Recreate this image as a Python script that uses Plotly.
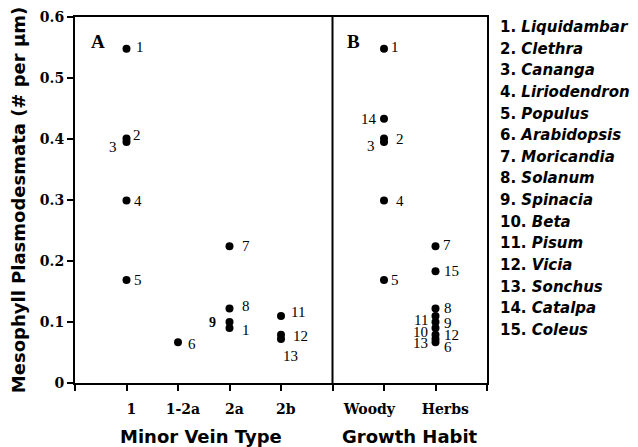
import plotly.graph_objects as go

# ---------------- data ----------------
species = ["Liquidambar", "Clethra", "Cananga", "Liriodendron", "Populus",
           "Arabidopsis", "Moricandia", "Solanum", "Spinacia", "Beta",
           "Pisum", "Vicia", "Sonchus", "Catalpa", "Coleus"]
species_no = list(range(1, 16))
vein_type = ["1", "1", "1", "1", "1", "1-2a", "2a", "2a", "2a", "2a",
             "2b", "2b", "2b", None, None]
growth_habit = ["Woody", "Woody", "Woody", "Woody", "Woody", "Herbs", "Herbs",
                "Herbs", "Herbs", "Herbs", "Herbs", "Herbs", "Herbs", "Woody", "Herbs"]
pd_per_um = [0.548, 0.401, 0.395, 0.299, 0.169, 0.067, 0.224, 0.122, 0.100,
             0.090, 0.110, 0.079, 0.072, 0.433, 0.183]
# point labels as printed in panel A (label of no. 10 is clipped to "1")
labels_a = ["1", "2", "3", "4", "5", "6", "7", "8", "9", "1", "11", "12", "13", "", ""]
x_tick_labels = ["", "1", "1-2a", "2a", "2b", "", "Woody", "Herbs", ""]

# ---------------- styles ----------------
NB = "\u00a0"
# padding that nudges the printed tick labels off-centre as in the original
tick_pad = {"1": (2, 0), "1-2a": (2, 0), "2a": (2, 0), "2b": (2, 0),
            "Woody": (0, 6), "Herbs": (4, 0)}
tick_text = [NB * tick_pad[t][0] + t + NB * tick_pad[t][1] if t else "" for t in x_tick_labels]

# label offsets (xshift, yshift, xanchor) per species
offs_a = {1: (7, 2, "left"), 2: (4, 3, "left"), 3: (-8, -5, "right"), 4: (5, 0, "left"),
          5: (5, 0, "left"), 6: (8, -2, "left"), 7: (10, 0, "left"), 8: (10, 3, "left"),
          9: (-12, 0, "right"), 10: (10, -2, "left"), 11: (8, 4, "left"),
          12: (10, -1, "left"), 13: (0, -17, "left")}
offs_b = {1: (5, 2, "left"), 2: (10, -1, "left"), 3: (-7, -4, "right"), 4: (10, 0, "left"),
          5: (5, 0, "left"), 6: (6, -5, "left"), 7: (5, 1, "left"), 8: (6, 1, "left"),
          9: (6, -1, "left"), 10: (-6, -4, "right"), 11: (-6, -4, "right"),
          12: (6, 0, "left"), 13: (-6, -4, "right"), 14: (-5, 0, "right"), 15: (6, 0, "left")}

pos = {lab: i for i, lab in enumerate(x_tick_labels) if lab}

xa, ya, xb, yb = [], [], [], []
for v, h, val in zip(vein_type, growth_habit, pd_per_um):
    if v is not None:
        xa.append(pos[v]); ya.append(val)
    xb.append(pos[h]); yb.append(val)

fig = go.Figure()
marker = dict(color="black", size=8)
fig.add_trace(go.Scatter(x=xa, y=ya, mode="markers", marker=marker, showlegend=False))
fig.add_trace(go.Scatter(x=xb, y=yb, mode="markers", marker=marker, showlegend=False))

lab_font = dict(family="Liberation Serif", size=15, color="black")
ann = []
for n, v, val, lab in zip(species_no, vein_type, pd_per_um, labels_a):
    if v is None:
        continue
    dx, dy, anc = offs_a[n]
    f = dict(lab_font)
    if n == 9:
        f = dict(lab_font, weight="bold", size=14)
    ann.append(dict(x=pos[v], y=val, xref="x", yref="y", text=lab, showarrow=False,
                    xanchor=anc, yanchor="middle", xshift=dx, yshift=dy, font=f))
for n, h, val in zip(species_no, growth_habit, pd_per_um):
    dx, dy, anc = offs_b[n]
    ann.append(dict(x=pos[h], y=val, xref="x", yref="y", text=str(n), showarrow=False,
                    xanchor=anc, yanchor="middle", xshift=dx, yshift=dy, font=lab_font))

# panel letters
letter_font = dict(family="Liberation Serif", size=19, color="black", weight="bold")
ann.append(dict(x=0.28, y=0.934, xref="x", yref="paper", text="A", showarrow=False,
                xanchor="left", yanchor="middle", font=letter_font))
ann.append(dict(x=5.24, y=0.934, xref="x", yref="paper", text="B", showarrow=False,
                xanchor="left", yanchor="middle", font=letter_font))

# x titles
title_font = dict(family="DejaVu Sans", size=18, color="black", weight="bold")
ann.append(dict(x=2.45, y=-0.112, xref="x", yref="paper", text="Minor Vein Type",
                showarrow=False, xanchor="center", yanchor="top", font=title_font))
ann.append(dict(x=6.5, y=-0.112, xref="x", yref="paper", text="Growth Habit",
                showarrow=False, xanchor="center", yanchor="top", font=title_font))

# species key, one line per entry
key_top, key_step = 0.9727, 0.05913
for i, (n, s) in enumerate(zip(species_no, species)):
    ann.append(dict(x=1.0267, y=key_top - i * key_step, xref="paper", yref="paper",
                    text=f"<b>{n}. <i>{s}</i></b>", showarrow=False,
                    xanchor="left", yanchor="middle", align="left",
                    font=dict(family="DejaVu Sans", size=15, color="black")))

fig.update_layout(
    width=638, height=447,
    margin=dict(l=67, r=159, t=9, b=72),
    paper_bgcolor="white", plot_bgcolor="white",
    annotations=ann,
    shapes=[dict(type="line", xref="x", yref="paper", x0=5, x1=5, y0=0, y1=1,
                 line=dict(color="black", width=2))],
)
tick_font = dict(family="DejaVu Serif", size=14, color="black", weight="bold")
fig.update_xaxes(range=[0, 8], tickvals=list(range(len(x_tick_labels))), ticktext=tick_text,
                 tickangle=0, automargin=False,
                 showgrid=False, zeroline=False, showline=True, linecolor="black", linewidth=2,
                 mirror=True, ticks="outside", ticklen=6, tickwidth=2, tickcolor="black",
                 tickfont=tick_font, ticklabelstandoff=6)
fig.update_yaxes(range=[0, 0.6], dtick=0.1, showgrid=False, zeroline=False, showline=True,
                 automargin=False,
                 linecolor="black", linewidth=2, mirror=True, ticks="outside", ticklen=6,
                 tickwidth=2, tickcolor="black", tickfont=tick_font,
                 title=dict(text="Mesophyll Plasmodesmata (# per µm)", font=title_font, standoff=10))

fig.write_html("out.html")
